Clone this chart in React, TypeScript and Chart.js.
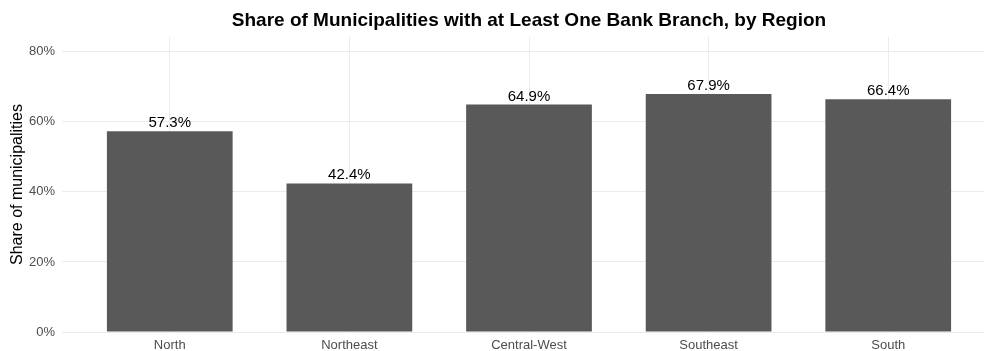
import React, { useEffect, useRef } from "react";
import { Chart, registerables } from "chart.js";

Chart.register(...registerables);

const categories = ["North", "Northeast", "Central-West", "Southeast", "South"];
const shares = [57.3, 42.4, 64.9, 67.9, 66.4];
const yTickValues = [0, 20, 40, 60, 80];
const titleText = "Share of Municipalities with at Least One Bank Branch, by Region";
const yAxisTitle = "Share of municipalities";

const FONT = '"Liberation Sans", Arial, Helvetica, sans-serif';

const overlayPlugin = {
  id: "overlay",
  afterDatasetsDraw(chart: any) {
    const { ctx, chartArea } = chart;
    const meta = chart.getDatasetMeta(0);
    ctx.save();
    ctx.fillStyle = "#000000";
    ctx.font = `15px ${FONT}`;
    ctx.textAlign = "center";
    ctx.textBaseline = "alphabetic";
    meta.data.forEach((el: any, i: number) => {
      ctx.fillText(shares[i].toFixed(1) + "%", el.x, el.y - 4);
    });
    // title
    ctx.font = `bold 19px ${FONT}`;
    ctx.fillText(titleText, (chartArea.left + chartArea.right) / 2, 26);
    // y axis title
    ctx.translate(18, (chartArea.top + chartArea.bottom) / 2);
    ctx.rotate(-Math.PI / 2);
    ctx.font = `16px ${FONT}`;
    ctx.textBaseline = "middle";
    ctx.fillText(yAxisTitle, 0, 0);
    ctx.restore();
  },
};

export default function App() {
  const ref = useRef<HTMLCanvasElement | null>(null);

  useEffect(() => {
    if (!ref.current) return;
    const chart = new Chart(ref.current, {
      type: "bar",
      data: {
        datasets: [
          {
            data: categories.map((_, i) => ({ x: i, y: shares[i] })) as any,
            backgroundColor: "#595959",
            borderWidth: 0,
            barPercentage: 0.7,
            categoryPercentage: 1,
          },
        ],
      },
      plugins: [overlayPlugin],
      options: {
        responsive: false,
        animation: false,
        devicePixelRatio: 1,
        layout: { padding: { top: 37, left: 0, right: 0, bottom: 0 } },
        plugins: {
          legend: { display: false },
          title: { display: false },
          tooltip: { enabled: false },
        },
        scales: {
          x: {
            type: "linear",
            offset: false,
            min: -0.6,
            max: 4.6,
            afterBuildTicks: (scale: any) => {
              scale.ticks = categories.map((_, i) => ({ value: i }));
            },
            afterFit: (scale: any) => {
              scale.height = 19;
            },
            grid: { color: "#ebebeb", lineWidth: 1, drawTicks: false, offset: false },
            border: { display: false },
            ticks: {
              includeBounds: false,
              padding: 6,
              color: "#4d4d4d",
              font: { family: FONT, size: 13 },
              maxRotation: 0,
              autoSkip: false,
              callback: (v: any) => categories[Math.round(Number(v))] ?? "",
            },
          },
          y: {
            type: "linear",
            min: 0,
            max: 84.2,
            afterBuildTicks: (scale: any) => {
              scale.ticks = yTickValues.map((v) => ({ value: v }));
            },
            afterFit: (scale: any) => {
              scale.width = 62;
            },
            grid: { color: "#ebebeb", lineWidth: 1, drawTicks: false },
            border: { display: false },
            ticks: {
              includeBounds: false,
              padding: 7,
              color: "#4d4d4d",
              font: { family: FONT, size: 13 },
              callback: (v: any) => v + "%",
            },
          },
        },
      } as any,
    });
    return () => chart.destroy();
  }, []);

  return (
    <div
      style={{
        position: "fixed",
        left: 0,
        top: 0,
        width: 984,
        height: 351,
        overflow: "hidden",
        background: "#ffffff",
      }}
    >
      <canvas ref={ref} width={996} height={351} style={{ display: "block" }} />
    </div>
  );
}
